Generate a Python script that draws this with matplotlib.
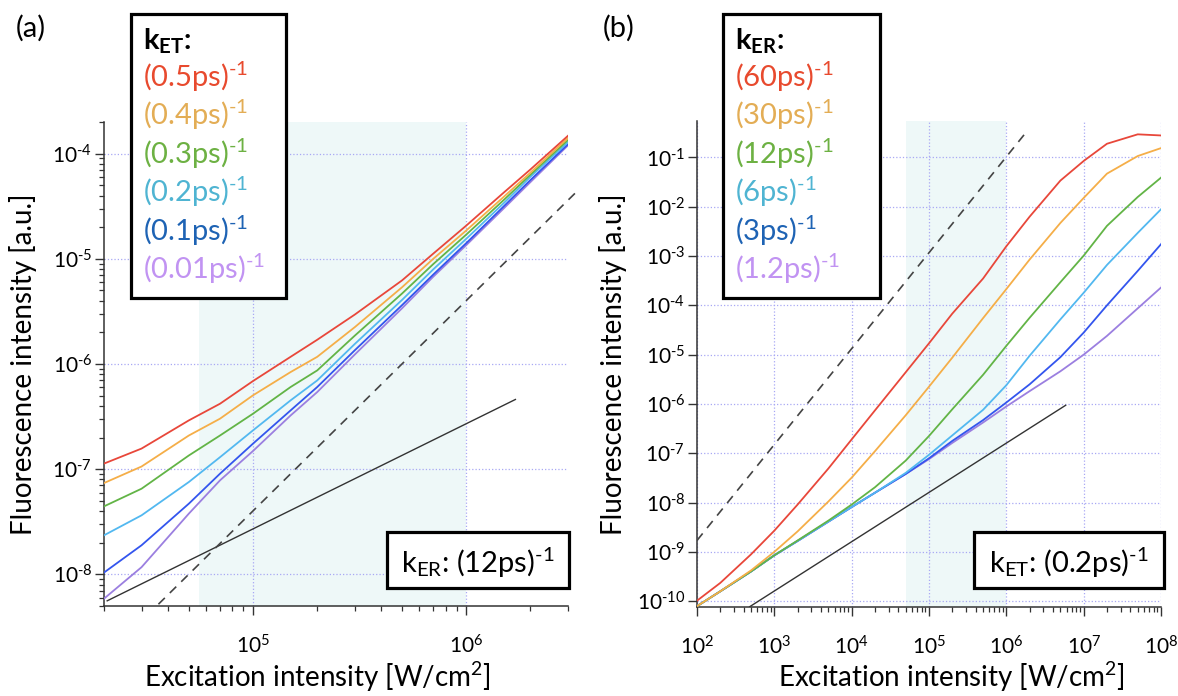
import numpy as np
import matplotlib
matplotlib.use("Agg")
import matplotlib.pyplot as plt
from matplotlib.patches import Rectangle
from matplotlib.ticker import LogLocator, NullLocator, NullFormatter, FuncFormatter

plt.rcParams['font.family'] = ['Lato', 'DejaVu Sans']
plt.rcParams['mathtext.fontset'] = 'custom'
plt.rcParams['mathtext.rm'] = 'Lato'
plt.rcParams['mathtext.it'] = 'Lato:italic'
plt.rcParams['mathtext.bf'] = 'Lato:bold'

# ---- panel (a): varying k_ET, k_ER = (12ps)^-1 ----
x_a = [2e4, 3e4, 5e4, 7e4, 1e5, 1.5e5, 2e5, 3e5, 5e5, 7e5, 1e6, 1.5e6, 2e6, 3e6]
a_05 = [1.13e-7, 1.57e-7, 2.91e-7, 4.19e-7, 6.89e-7, 1.17e-6, 1.70e-6, 2.95e-6, 6.24e-6, 1.12e-5, 2.07e-5, 4.27e-5, 7.08e-5, 1.48e-4]
a_04 = [7.38e-8, 1.06e-7, 2.09e-7, 3.02e-7, 5.04e-7, 8.38e-7, 1.17e-6, 2.24e-6, 5.37e-6, 1.00e-5, 1.86e-5, 3.89e-5, 6.61e-5, 1.41e-4]
a_03 = [4.43e-8, 6.52e-8, 1.35e-7, 2.09e-7, 3.37e-7, 6.04e-7, 8.69e-7, 1.86e-6, 4.68e-6, 8.91e-6, 1.70e-5, 3.63e-5, 6.31e-5, 1.35e-4]
a_02 = [2.35e-8, 3.64e-8, 7.55e-8, 1.30e-7, 2.34e-7, 4.51e-7, 6.98e-7, 1.55e-6, 4.07e-6, 7.94e-6, 1.55e-5, 3.39e-5, 6.03e-5, 1.29e-4]
a_01 = [1.04e-8, 1.89e-8, 4.70e-8, 9.06e-8, 1.75e-7, 3.62e-7, 6.04e-7, 1.35e-6, 3.63e-6, 7.08e-6, 1.41e-5, 3.16e-5, 5.62e-5, 1.23e-4]
a_001 = [5.87e-9, 1.17e-8, 3.78e-8, 7.83e-8, 1.49e-7, 3.24e-7, 5.41e-7, 1.23e-6, 3.39e-6, 6.76e-6, 1.35e-5, 3.02e-5, 5.37e-5, 1.20e-4]
a_lin_x = [2.07e4, 1.7e6]
a_lin_y = [5.6e-9, 4.6e-7]
a_quad_x = [3.6e4, 3.35e6]
a_quad_y = [5.2e-9, 4.5e-5]
a_span = [5.6e4, 1e6]
a_labels = ['(0.5ps)', '(0.4ps)', '(0.3ps)', '(0.2ps)', '(0.1ps)', '(0.01ps)']

# ---- panel (b): varying k_ER, k_ET = (0.2ps)^-1 ----
x_b = [1e2, 2e2, 5e2, 1e3, 2e3, 5e3, 1e4, 2e4, 5e4, 1e5, 2e5, 5e5, 1e6, 2e6, 5e6, 1e7, 2e7, 5e7, 1e8]
b_60 = [1.02e-10, 2.34e-10, 8.9e-10, 2.69e-9, 9.1e-9, 4.9e-8, 1.91e-7, 7.4e-7, 4.4e-6, 1.70e-5, 6.8e-5, 3.5e-4, 1.58e-3, 6.3e-3, 3.4e-2, 8.5e-2, 0.19, 0.295, 0.28]
b_30 = [7.9e-11, 1.58e-10, 4.2e-10, 1.0e-9, 2.6e-9, 1.05e-8, 3.2e-8, 1.10e-7, 5.9e-7, 2.24e-6, 8.7e-6, 5.5e-5, 2.14e-4, 8.5e-4, 4.7e-3, 1.51e-2, 4.7e-2, 0.107, 0.155]
b_12 = [7.9e-11, 1.58e-10, 4.0e-10, 8.5e-10, 1.7e-9, 4.3e-9, 9.1e-9, 2.04e-8, 7.1e-8, 2.24e-7, 7.8e-7, 3.9e-6, 1.51e-5, 5.6e-5, 2.95e-4, 1.02e-3, 4.1e-3, 1.58e-2, 3.9e-2]
b_6 = [7.9e-11, 1.58e-10, 4.0e-10, 8.5e-10, 1.66e-9, 4.1e-9, 8.1e-9, 1.58e-8, 4.0e-8, 9.3e-8, 2.3e-7, 7.6e-7, 2.4e-6, 9.5e-6, 5.2e-5, 1.8e-4, 6.6e-4, 2.95e-3, 8.9e-3]
b_3 = [7.9e-11, 1.58e-10, 4.0e-10, 8.5e-10, 1.66e-9, 4.1e-9, 8.1e-9, 1.58e-8, 3.8e-8, 7.9e-8, 1.78e-7, 4.7e-7, 1.07e-6, 2.5e-6, 8.9e-6, 2.8e-5, 1.0e-4, 5.0e-4, 1.74e-3]
b_12b = [7.9e-11, 1.58e-10, 4.0e-10, 8.5e-10, 1.66e-9, 4.1e-9, 8.1e-9, 1.58e-8, 3.8e-8, 7.6e-8, 1.62e-7, 4.2e-7, 8.9e-7, 1.82e-6, 4.6e-6, 1.0e-5, 2.4e-5, 8.7e-5, 2.3e-4]
b_lin_x = [4.8e2, 5.85e6]
b_lin_y = [7.7e-11, 9.4e-7]
b_quad_x = [1e2, 1.9e6]
b_quad_y = [1.7e-9, 0.36]
b_span = [5e4, 1e6]
b_labels = ['(60ps)', '(30ps)', '(12ps)', '(6ps)', '(3ps)', '(1.2ps)']

line_colors = ['#e8473a', '#f5ae48', '#62b446', '#52b8f0', '#3355ee', '#9b7fe0']
text_colors = ['#e84a2e', '#e3ad55', '#6db143', '#4fb4d2', '#1e63b4', '#c193f2']

INV = r'$^{\text{-1}}$'

W, H = 1178, 696
fig = plt.figure(figsize=(W / 100, H / 100), dpi=100)


def fx(x):
    return x / W


def fy(y):
    return 1 - y / H


def pow10_label(v, pos):
    e = int(round(np.log10(v)))
    if e < 0:
        return r'$10^{\text{-%d}}$' % (-e)
    return r'$10^{%d}$' % e


def style_axes(ax, ymin, ymax, xmin, xmax, y_minor=True):
    ax.set_xscale('log')
    ax.set_yscale('log')
    ax.set_xlim(xmin, xmax)
    ax.set_ylim(ymin, ymax)
    for s in ['top', 'right']:
        ax.spines[s].set_visible(False)
    for s in ['left', 'bottom']:
        ax.spines[s].set_color('#333333')
        ax.spines[s].set_linewidth(1.1)
    ax.yaxis.set_major_locator(LogLocator(base=10, numticks=20))
    ax.xaxis.set_major_locator(LogLocator(base=10, numticks=20))
    ax.xaxis.set_minor_locator(LogLocator(base=10, subs=np.arange(2, 10), numticks=20))
    if y_minor:
        ax.yaxis.set_minor_locator(LogLocator(base=10, subs=np.arange(2, 10), numticks=20))
    else:
        ax.yaxis.set_minor_locator(NullLocator())
    ax.xaxis.set_major_formatter(FuncFormatter(pow10_label))
    ax.yaxis.set_major_formatter(FuncFormatter(pow10_label))
    ax.xaxis.set_minor_formatter(NullFormatter())
    ax.yaxis.set_minor_formatter(NullFormatter())
    ax.tick_params(which='major', length=6.5, width=1.0, color='#333333', labelsize=15)
    ax.tick_params(which='minor', length=3.3, width=0.9, color='#333333')
    ax.tick_params(axis='x', which='major', pad=14)
    ax.tick_params(axis='y', which='major', pad=2)
    ax.grid(True, which='major', linestyle=':', color='#a8a8f4', linewidth=0.9)
    ax.set_xlabel('Excitation intensity [W/cm$^2$]', fontsize=20)
    ax.set_ylabel('Fluorescence intensity [a.u.]', fontsize=20)
    ax.xaxis.label.set_verticalalignment('baseline')


# panel (a)
ax1 = fig.add_axes([fx(104), fy(606), (568 - 104) / W, (606 - 122) / H])
style_axes(ax1, 5e-9, 2e-4, 2e4, 3e6)
ax1.axvspan(a_span[0], a_span[1], color='#eef8f8', zorder=0.5, lw=0)
series_a = [a_05, a_04, a_03, a_02, a_01, a_001]
for ys, c in list(zip(series_a, line_colors))[::-1]:
    ax1.plot(x_a, ys, color=c, lw=1.3, zorder=3)
ax1.plot(a_lin_x, a_lin_y, color='#333333', lw=1.0, zorder=3)
ax1.plot(a_quad_x, a_quad_y, color='#444444', lw=1.2, ls=(0, (5.4, 4.2)), zorder=3, clip_on=False)
ax1.xaxis.set_label_coords((317 - 104) / 464, -(687 - 606) / 484)
ax1.yaxis.set_label_coords((37 - 104) / 464, 0.5)

# panel (b)
ax2 = fig.add_axes([fx(697), fy(607), (1161 - 697) / W, (607 - 121) / H])
style_axes(ax2, 7.6e-11, 0.55, 1e2, 1e8, y_minor=False)
ax2.axvspan(b_span[0], b_span[1], color='#eef8f8', zorder=0.5, lw=0)
series_b = [b_60, b_30, b_12, b_6, b_3, b_12b]
for ys, c in list(zip(series_b, line_colors))[::-1]:
    ax2.plot(x_b, ys, color=c, lw=1.3, zorder=3)
ax2.plot(b_lin_x, b_lin_y, color='#333333', lw=1.0, zorder=3)
ax2.plot(b_quad_x, b_quad_y, color='#444444', lw=1.2, ls=(0, (5.4, 4.2)), zorder=3)
ax2.xaxis.set_label_coords((951 - 697) / 464, -(687 - 607) / 486)
ax2.yaxis.set_label_coords((627 - 697) / 464, 0.5)

# panel letters
fig.text(fx(16), fy(37), '(a)', fontsize=21, ha='left', va='baseline')
fig.text(fx(603), fy(37), '(b)', fontsize=21, ha='left', va='baseline')


def legend_box(x0, y0, x1, y1, title, labels):
    fig.add_artist(Rectangle((fx(x0), fy(y1)), (x1 - x0) / W, (y1 - y0) / H,
                             transform=fig.transFigure, facecolor='white',
                             edgecolor='black', lw=2.3, zorder=4))
    fig.text(fx(x0 + 12), fy(50), title, fontsize=21, fontweight='bold',
             ha='left', va='baseline', zorder=5)
    for i, (lab, c) in enumerate(zip(labels, text_colors)):
        fig.text(fx(x0 + 12), fy(87 + 38.4 * i), lab + INV, color=c, fontsize=21,
                 ha='left', va='baseline', zorder=5)


def rate_box(x0, y0, x1, y1, label):
    fig.add_artist(Rectangle((fx(x0), fy(y1)), (x1 - x0) / W, (y1 - y0) / H,
                             transform=fig.transFigure, facecolor='white',
                             edgecolor='black', lw=2.3, zorder=4))
    fig.text(fx((x0 + x1) / 2), fy(573), label, fontsize=21,
             ha='center', va='baseline', zorder=5)


legend_box(131, 14, 286, 298, r'$\mathbf{k}_{\mathbf{ET}}$:', a_labels)
legend_box(723, 14, 880, 298, r'$\mathbf{k}_{\mathbf{ER}}$:', b_labels)
rate_box(387, 532, 569, 588, r'k$_{\mathrm{ER}}$: (12ps)' + INV)
rate_box(974, 532, 1164, 588, r'k$_{\mathrm{ET}}$: (0.2ps)' + INV)

fig.savefig('out.png', dpi=100, facecolor='white')
